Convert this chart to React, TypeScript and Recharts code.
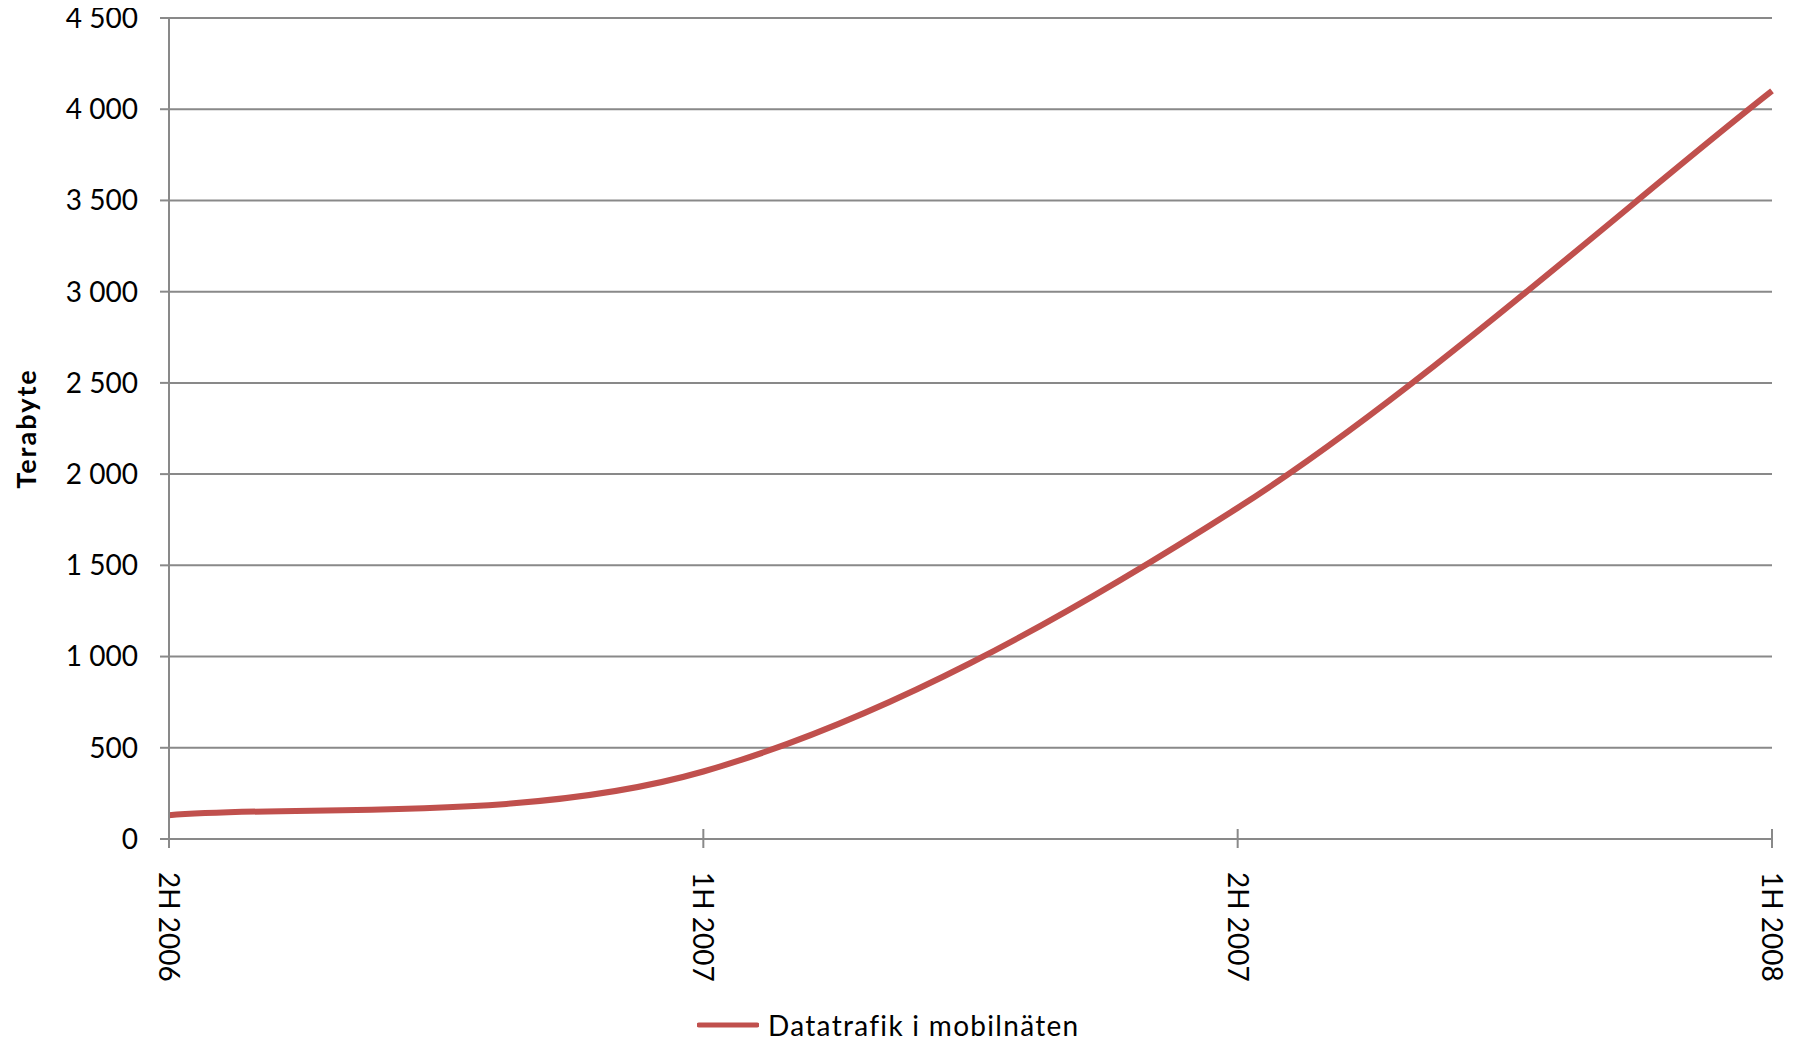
import { LineChart, Line, XAxis, YAxis, CartesianGrid, Legend } from 'recharts';

const periods = ['2H 2006', '1H 2007', '2H 2007', '1H 2008'];
const traffic = [130, 370, 1815, 4100];
const yTicks = [0, 500, 1000, 1500, 2000, 2500, 3000, 3500, 4000, 4500];
const seriesName = 'Datatrafik i mobilnäten';
const yLabel = 'Terabyte';

const data = periods.map((period, i) => ({ period, traffic: traffic[i] }));

const FONT = 'Lato, "Open Sans", sans-serif';
const AXIS = '#898989';
const RED = '#C0504D';
const X_TICK_SIZE = 9;
const X_TICK_MARGIN = 20;

// smoothed line like Excel: catmull-rom style bezier, softer at the ends
function excelSmooth(context: any) {
  let pts: number[][] = [];
  return {
    areaStart() {},
    areaEnd() {},
    lineStart() {
      pts = [];
    },
    point(x: number, y: number) {
      pts.push([+x, +y]);
    },
    lineEnd() {
      const n = pts.length;
      if (!n) return;
      context.moveTo(pts[0][0], pts[0][1]);
      for (let i = 0; i < n - 1; i++) {
        const p1 = pts[i];
        const p2 = pts[i + 1];
        const c1 =
          i === 0
            ? [p1[0] + (p2[0] - p1[0]) / 4, p1[1] + (p2[1] - p1[1]) / 4]
            : [p1[0] + (p2[0] - pts[i - 1][0]) / 6, p1[1] + (p2[1] - pts[i - 1][1]) / 6];
        const c2 =
          i === n - 2
            ? [p2[0] - (p2[0] - p1[0]) / 4, p2[1] - (p2[1] - p1[1]) / 4]
            : [p2[0] - (pts[i + 2][0] - p1[0]) / 6, p2[1] - (pts[i + 2][1] - p1[1]) / 6];
        context.bezierCurveTo(c1[0], c1[1], c2[0], c2[1], p2[0], p2[1]);
      }
    },
  };
}

const formatThousands = (v: number) => String(v).replace(/\B(?=(\d{3})+(?!\d))/g, ' ');

function XTick({ x, y, payload }: any) {
  const axisY = y - X_TICK_SIZE - X_TICK_MARGIN;
  return (
    <g>
      <line x1={x} x2={x} y1={axisY - 10} y2={axisY} stroke={AXIS} strokeWidth={2} />
      <text
        transform={`translate(${x},${y}) rotate(90)`}
        textAnchor="start"
        dx={4}
        dy="0.36em"
        fill="#000"
        fontSize={28}
        fontFamily={FONT}
      >
        {payload.value}
      </text>
    </g>
  );
}

function YTitle({ viewBox }: any) {
  const cy = viewBox.y + viewBox.height / 2;
  return (
    <text
      x={25}
      y={cy}
      transform={`rotate(-90, 25, ${cy})`}
      textAnchor="middle"
      dominantBaseline="central"
      fontSize={27}
      fontWeight="bold"
      letterSpacing={2}
      fontFamily={FONT}
      fill="#000"
    >
      {yLabel}
    </text>
  );
}

function LegendBox() {
  return (
    <div style={{ height: 40, display: 'flex', alignItems: 'center', paddingLeft: 689 }}>
      <svg width={62} height={10} style={{ marginRight: 9 }}>
        <line x1={2} x2={60} y1={5} y2={5} stroke={RED} strokeWidth={5} strokeLinecap="round" />
      </svg>
      <span style={{ fontFamily: FONT, fontSize: 28, letterSpacing: 1.3, color: '#000' }}>{seriesName}</span>
    </div>
  );
}

export default function App() {
  return (
    <div style={{ margin: '-8px 0 0 -8px' }}>
      <LineChart width={1798} height={1049} data={data} margin={{ top: 18, right: 26, left: 8, bottom: 4 }}>
        <CartesianGrid vertical={false} stroke={AXIS} strokeWidth={2} />
        <XAxis
          dataKey="period"
          interval={0}
          height={166}
          tickSize={X_TICK_SIZE}
          tickMargin={X_TICK_MARGIN}
          axisLine={{ stroke: AXIS, strokeWidth: 2 }}
          tickLine={{ stroke: AXIS, strokeWidth: 2 }}
          tick={<XTick />}
        />
        <YAxis
          width={161}
          domain={[0, 4500]}
          ticks={yTicks}
          interval={0}
          tickSize={9}
          tickMargin={22}
          tickFormatter={formatThousands}
          axisLine={{ stroke: AXIS, strokeWidth: 2 }}
          tickLine={{ stroke: AXIS, strokeWidth: 2 }}
          tick={{ fill: '#000', fontSize: 28, fontFamily: FONT }}
          label={{ value: yLabel, content: <YTitle /> }}
        />
        <Legend verticalAlign="bottom" content={<LegendBox />} />
        <Line
          type={excelSmooth as any}
          dataKey="traffic"
          name={seriesName}
          stroke={RED}
          strokeWidth={6}
          dot={false}
          activeDot={false}
          isAnimationActive={false}
        />
      </LineChart>
    </div>
  );
}
